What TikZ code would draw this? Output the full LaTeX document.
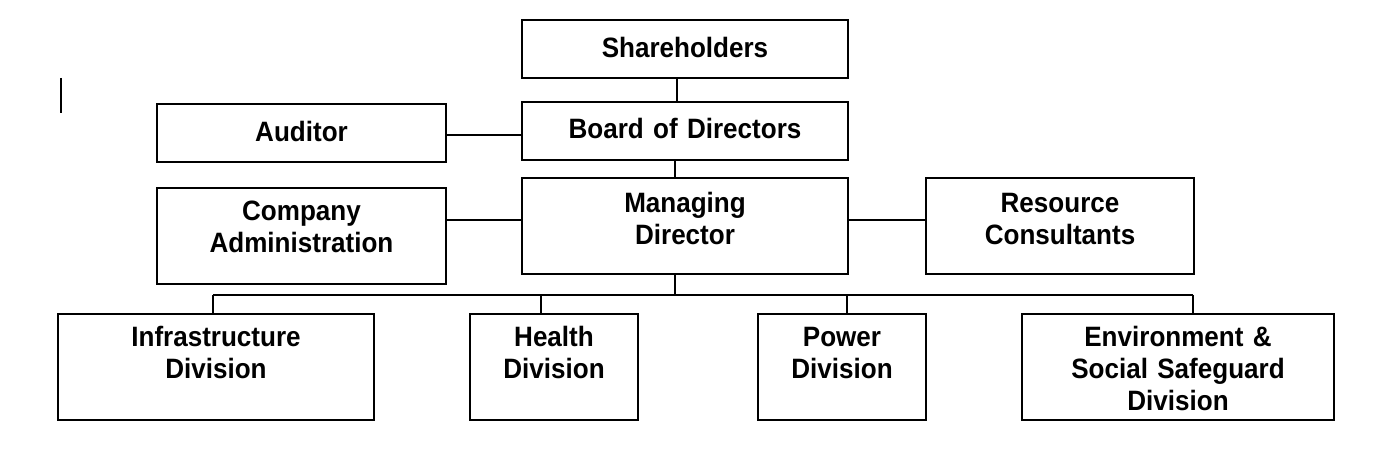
\documentclass[tikz,border=0pt]{standalone}
\usepackage{fontspec}
\setmainfont{Liberation Sans}[FakeStretch=0.93]
\usetikzlibrary{positioning}

\begin{document}
\begin{tikzpicture}[x=0.5pt,y=-0.5pt,
  unit/.style={draw,line width=1pt,inner xsep=0pt,inner ysep=0pt,align=center,anchor=north west,font=\fontsize{14}{16}\selectfont\bfseries},
  link/.style={line width=0.8pt}]

\useasboundingbox (0,0) rectangle (1384,464);

% board column
\node[unit,text width=163pt,text height=19pt,text depth=10pt](sh)at(521,19){Shareholders};
\node[unit,text width=163pt,text height=18.4pt,text depth=10.6pt](bod)at(521,101){Board of Directors};
\node[unit,text width=144.5pt,text height=18.9pt,text depth=10.1pt](aud)at(156,103){Auditor};
\node[unit,text width=163pt,text height=17.5pt,text depth=30.5pt](md)at(521,177){Managing\\Director};
\node[unit,text width=144.5pt,text height=16.5pt,text depth=31.5pt](ca)at(156,187){Company\\Administration};
\node[unit,text width=134pt,text height=17.5pt,text depth=30.5pt](rc)at(925,177){Resource\\Consultants};

% divisions
\foreach \n/\x/\w/\t in {inf/57/158/Infrastructure\\Division,hl/469/84/Health\\Division,pw/757/84/Power\\Division,env/1021/156/Environment \&\\Social Safeguard\\Division}
	\node[unit,text width=\w pt,text height=16.4pt,text depth=36.6pt](\n)at(\x,313){\t};

\coordinate (v1) at (677,0);
\coordinate (v2) at (675,0);
\coordinate (h1) at (0,135);
\coordinate (h2) at (0,220);
\coordinate (bus) at (675,295);

\draw[link](sh.south -| v1)--(bod.north -| v1);
\draw[link](bod.south -| v2)--(md.north -| v2);
\draw[link](aud.east |- h1)--(bod.west |- h1);
\draw[link](ca.east |- h2)--(md.west |- h2);
\draw[link](md.east |- h2)--(rc.west |- h2);
\draw[link](md.south -| bus)--(bus);

\foreach \n/\x in {inf/213,hl/541,pw/847,env/1193}{
	\coordinate (d-\n) at (\x,295);
	\draw[link](d-\n)--(d-\n |- \n.north);
}
\draw[link](d-inf)--(d-env);

% cursor mark
\draw[line width=1pt](61,78)--(61,113);
\end{tikzpicture}
\end{document}
